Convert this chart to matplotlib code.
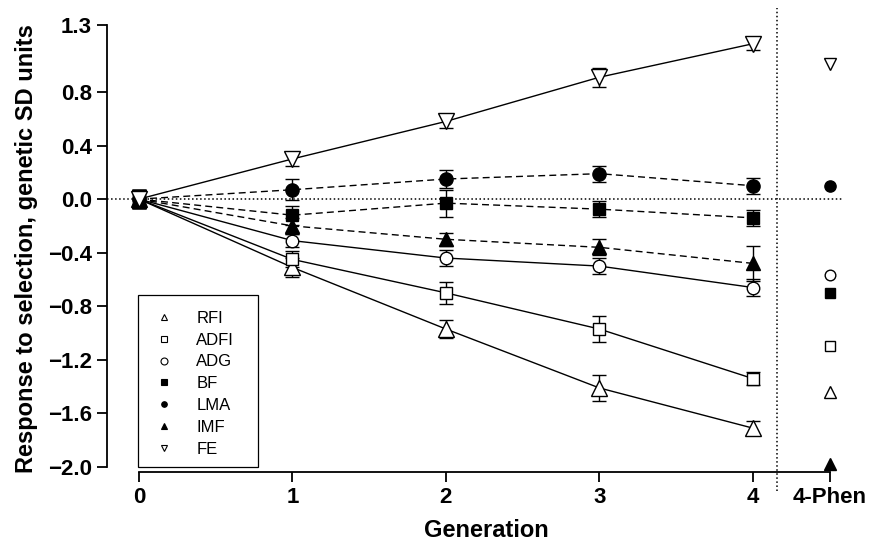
import matplotlib.pyplot as plt
from matplotlib.patches import Rectangle

plt.rcParams['font.family'] = ['Liberation Sans', 'DejaVu Sans']

generations = [0, 1, 2, 3, 4]
phen_x = 4.5
traits = ['RFI', 'ADFI', 'ADG', 'BF', 'LMA', 'IMF', 'FE']

rfi = [0.0, -0.51, -0.97, -1.41, -1.71]
rfi_err = [0.07, 0.07, 0.07, 0.10, 0.05]
adfi = [0.0, -0.45, -0.70, -0.97, -1.34]
adfi_err = [0.07, 0.06, 0.08, 0.10, 0.05]
adg = [0.0, -0.31, -0.44, -0.50, -0.66]
adg_err = [0.07, 0.05, 0.06, 0.06, 0.06]
bf = [0.0, -0.12, -0.03, -0.075, -0.14]
bf_err = [0.07, 0.07, 0.10, 0.06, 0.06]
lma = [0.0, 0.07, 0.15, 0.19, 0.10]
lma_err = [0.07, 0.08, 0.07, 0.06, 0.06]
imf = [0.0, -0.20, -0.30, -0.36, -0.48]
imf_err = [0.07, 0.06, 0.05, 0.06, 0.13]
fe = [0.0, 0.30, 0.58, 0.91, 1.16]
fe_err = [0.07, 0.05, 0.05, 0.07, 0.05]

# single-trait (4-Phen) values
phen = {'RFI': -1.44, 'ADFI': -1.10, 'ADG': -0.57, 'BF': -0.70,
        'LMA': 0.10, 'IMF': -1.98, 'FE': 1.01}

series = {'RFI': (rfi, rfi_err), 'ADFI': (adfi, adfi_err), 'ADG': (adg, adg_err),
          'BF': (bf, bf_err), 'LMA': (lma, lma_err), 'IMF': (imf, imf_err),
          'FE': (fe, fe_err)}

style = {
    'RFI': dict(marker='^', fc='white', ls='-', ms=11),
    'ADFI': dict(marker='s', fc='white', ls='-', ms=8.5),
    'ADG': dict(marker='o', fc='white', ls='-', ms=9),
    'BF': dict(marker='s', fc='black', ls='--', ms=8.5),
    'LMA': dict(marker='o', fc='black', ls='--', ms=9.5),
    'IMF': dict(marker='^', fc='black', ls='--', ms=10),
    'FE': dict(marker='v', fc='white', ls='-', ms=11),
}

fig = plt.figure(figsize=(8.75, 5.41), dpi=100)
ax = fig.add_axes([107 / 875, 1 - 472 / 541, (845 - 107) / 875, (472 - 25) / 541])
ax.set_xlim(-0.208, 4.6)
ax.set_ylim(-2.0375, 1.3)

# reference lines
ax.plot([-0.208, 4.58], [0, 0], ls=':', color='black', lw=1.1, zorder=1)
ax.plot([4.16, 4.16], [-2.18, 1.43], ls=':', color='black', lw=1.1,
        clip_on=False, zorder=1)

for name in traits:
    vals, err = series[name]
    st = style[name]
    ax.errorbar(generations, vals, yerr=err, color='black', ls=st['ls'],
                lw=1.0, dashes=(5, 3) if st['ls'] == '--' else (None, None),
                marker=st['marker'], ms=st['ms'], mfc=st['fc'], mec='black',
                mew=1.0, ecolor='black', elinewidth=1.0, capsize=5,
                clip_on=False, zorder=3)
    ax.plot([phen_x], [phen[name]], ls='none', marker=st['marker'],
            ms=st['ms'] * 0.85, mfc=st['fc'], mec='black', mew=1.0,
            clip_on=False, zorder=3)

# legend with small markers, boxed by a hand-sized frame
handles = []
for name in traits:
    st = style[name]
    h, = ax.plot([], [], ls='none', marker=st['marker'], ms=5 if name != 'LMA' else 4,
                 mfc=st['fc'], mec='black', mew=0.8, label=name)
    handles.append(h)
leg = ax.legend(handles=handles, loc='upper left', bbox_to_anchor=(0.042, 0.396),
                frameon=False, fontsize=12, handlelength=1.2,
                handletextpad=1.35, labelspacing=0.41, borderpad=0.95,
                borderaxespad=0)
ax.add_patch(Rectangle((0.042, 0.011), 0.1626, 0.385, transform=ax.transAxes,
                       fill=False, edgecolor='black', lw=0.9, zorder=4))

for s in ['top', 'right']:
    ax.spines[s].set_visible(False)
ax.spines['left'].set_bounds(-2.0, 1.3)
ax.spines['bottom'].set_bounds(0, phen_x)
ax.spines['left'].set_linewidth(1.3)
ax.spines['bottom'].set_linewidth(1.3)

ax.set_yticks([1.3, 0.8, 0.4, 0.0, -0.4, -0.8, -1.2, -1.6, -2.0])
ax.set_yticklabels(['1.3', '0.8', '0.4', '0.0', '\u22120.4', '\u22120.8',
                    '\u22121.2', '\u22121.6', '\u22122.0'])
ax.set_xticks(generations + [phen_x])
ax.set_xticklabels(['0', '1', '2', '3', '4', '4-Phen'])
ax.tick_params(direction='out', length=7, width=1.3, labelsize=16, pad=4)
for lab in ax.get_xticklabels() + ax.get_yticklabels():
    lab.set_fontweight('bold')

ax.set_ylabel('Response to selection, genetic SD units', fontsize=17,
              fontweight='bold', labelpad=7)
ax.set_xlabel('Generation', fontsize=17, fontweight='bold', labelpad=8)
ax.xaxis.set_label_coords(0.514, -0.105)

fig.savefig('out.png', dpi=100)
